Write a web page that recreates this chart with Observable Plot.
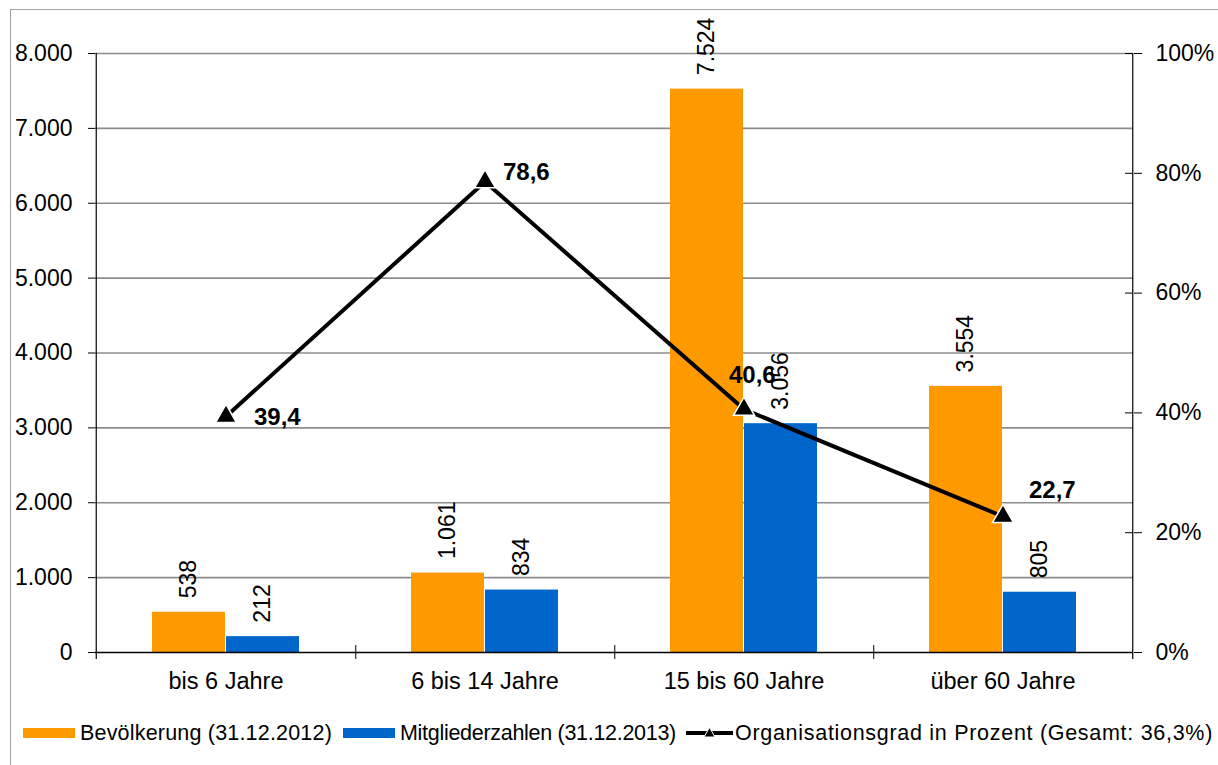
<!DOCTYPE html>
<html>
<head>
<meta charset="utf-8">
<script src="https://cdn.jsdelivr.net/npm/d3@7"></script>
<script src="https://cdn.jsdelivr.net/npm/@observablehq/plot@0.6"></script>
<style>
  html, body { margin: 0; padding: 0; background: #fff; }
  body { width: 1218px; height: 765px; position: relative; overflow: hidden;
         font-family: "Liberation Sans", Arial, sans-serif; }
  #frame { position: absolute; left: 10px; top: 9px; width: 1220px; height: 770px;
           border: 1px solid #a0a0a0; box-sizing: border-box; }
  #chart { position: absolute; left: 0; top: 0; }
  #legend { position: absolute; left: 0; top: 718px; width: 1218px; height: 30px;
            font-size: 21.5px; color: #000; }
  .item { position: absolute; top: 0; height: 30px; display: flex; align-items: center; white-space: nowrap; }
  .sw { display: inline-block; width: 52px; height: 10px; margin-right: 5px; }
  .txt { display: inline-block; }
</style>
</head>
<body>
<div id="frame"></div>
<div id="chart"></div>
<div id="legend"></div>
<script>
// ---- data ----
const categories = ["bis 6 Jahre", "6 bis 14 Jahre", "15 bis 60 Jahre", "über 60 Jahre"];
const bevoelkerung = [538, 1061, 7524, 3554];
const mitglieder = [212, 834, 3056, 805];
const organisationsgrad = [39.4, 78.6, 40.6, 22.7];
const leftTicks = [0, 1000, 2000, 3000, 4000, 5000, 6000, 7000, 8000];
const rightTicks = [0, 20, 40, 60, 80, 100];
const seriesNames = ["Bevölkerung (31.12.2012)", "Mitgliederzahlen (31.12.2013)", "Organisationsgrad in Prozent (Gesamt: 36,3%)"];

// label placement (style only)
const lineLabelOffsets = [[28, 1], [18, -9], [-15, -34], [26, -26]];

const ORANGE = "#FF9900", BLUE = "#0066CC";
const de = d3.formatLocale({decimal: ",", thousands: ".", grouping: [3], currency: ["", " €"]});
const fmtInt = de.format(",.0f");
const fmtPct = de.format(",.1f");
const PCT = 8000 / 100; // right axis: 100% == 8000 on left axis

const rows = categories.map((c, i) => ({cat: c, bev: bevoelkerung[i], mit: mitglieder[i], pct: organisationsgrad[i], i}));

const half = 1038 / 4 / 2;
const font = "'Liberation Sans', Arial, sans-serif";

const marks = [
  Plot.ruleY(leftTicks.filter(d => d > 0), {stroke: "#8c8c8c", strokeWidth: 1.6}),
  Plot.barY(rows, {x: "cat", y: "bev", fill: ORANGE, insetLeft: 56, insetRight: 130}),
  Plot.barY(rows, {x: "cat", y: "mit", fill: BLUE, insetLeft: 130, insetRight: 56}),
  Plot.ruleY([0], {stroke: "#000", strokeWidth: 1.5}),
  Plot.ruleX([categories[0]], {x: d => d, dx: -half, stroke: "#000", strokeWidth: 1.2, insetBottom: -7}),
  Plot.ruleX([categories[3]], {x: d => d, dx: half, stroke: "#000", strokeWidth: 1.2, insetBottom: -7}),
  Plot.ruleX(categories.slice(0, 3), {x: d => d, dx: half, stroke: "#000", strokeWidth: 1, insetTop: 592, insetBottom: -7}),
  Plot.ruleY(rightTicks.map(t => t * PCT), {stroke: "#000", strokeWidth: 1, insetLeft: 1030}),
  Plot.axisY(leftTicks, {anchor: "left", tickSize: 7, tickPadding: 16, tickFormat: fmtInt, label: null, fontSize: 23}),
  Plot.axisY(rightTicks.map(t => t * PCT), {anchor: "right", tickSize: 8, tickPadding: 14, tickFormat: d => Math.round(d / PCT) + "%", label: null, fontSize: 23}),
  Plot.axisX(categories, {anchor: "bottom", tickSize: 0, tickPadding: 20, label: null, fontSize: 23.5}),
  Plot.text(rows, {x: "cat", y: "bev", text: d => fmtInt(d.bev), rotate: -90, textAnchor: "start", dx: -37, dy: -14, fontSize: 23, fill: "#000"}),
  Plot.text(rows, {x: "cat", y: "mit", text: d => fmtInt(d.mit), rotate: -90, textAnchor: "start", dx: 37, dy: -14, fontSize: 23, fill: "#000"}),
  Plot.line(rows, {x: "cat", y: d => d.pct * PCT, stroke: "#000", strokeWidth: 4}),
  Plot.dot(rows, {x: "cat", y: d => d.pct * PCT, symbol: "triangle", r: 7.8, fill: "#000", stroke: "#fff", strokeWidth: 1.5}),
  ...rows.map((r, i) => Plot.text([r], {x: "cat", y: d => d.pct * PCT, text: d => fmtPct(d.pct), textAnchor: "start",
      dx: lineLabelOffsets[i][0], dy: lineLabelOffsets[i][1], fontSize: 24, fontWeight: "bold", fill: "#000"}))
];

const chart = Plot.plot({
  width: 1218, height: 700,
  marginLeft: 95, marginRight: 85, marginTop: 53, marginBottom: 48,
  style: {fontFamily: font, fontSize: "23px", color: "#000", background: "transparent", overflow: "visible"},
  x: {type: "band", domain: categories, padding: 0, axis: null},
  y: {domain: [0, 8000], axis: null},
  marks
});
document.getElementById("chart").appendChild(chart);

// legend
const legend = document.getElementById("legend");
const items = [
  {left: 23, target: 252, sw: `<span class="sw" style="background:${ORANGE}"></span>`},
  {left: 343, target: 276, sw: `<span class="sw" style="background:${BLUE}"></span>`},
  {left: 686, target: 478, sw: `<svg width="47" height="14" style="margin-right:2px"><line x1="0" y1="7" x2="47" y2="7" stroke="#000" stroke-width="4"/><path d="M23.5,1.5 L29,11 L18,11 Z" fill="#000" stroke="#fff" stroke-width="1"/></svg>`}
];
items.forEach((it, i) => {
  const d = document.createElement("div");
  d.className = "item";
  d.style.left = it.left + "px";
  d.innerHTML = it.sw;
  const t = document.createElement("span");
  t.className = "txt";
  t.textContent = seriesNames[i];
  d.appendChild(t);
  legend.appendChild(d);
  const w = t.getBoundingClientRect().width;
  const n = seriesNames[i].length;
  t.style.letterSpacing = ((it.target - w) / n) + "px";
});
</script>
</body>
</html>
